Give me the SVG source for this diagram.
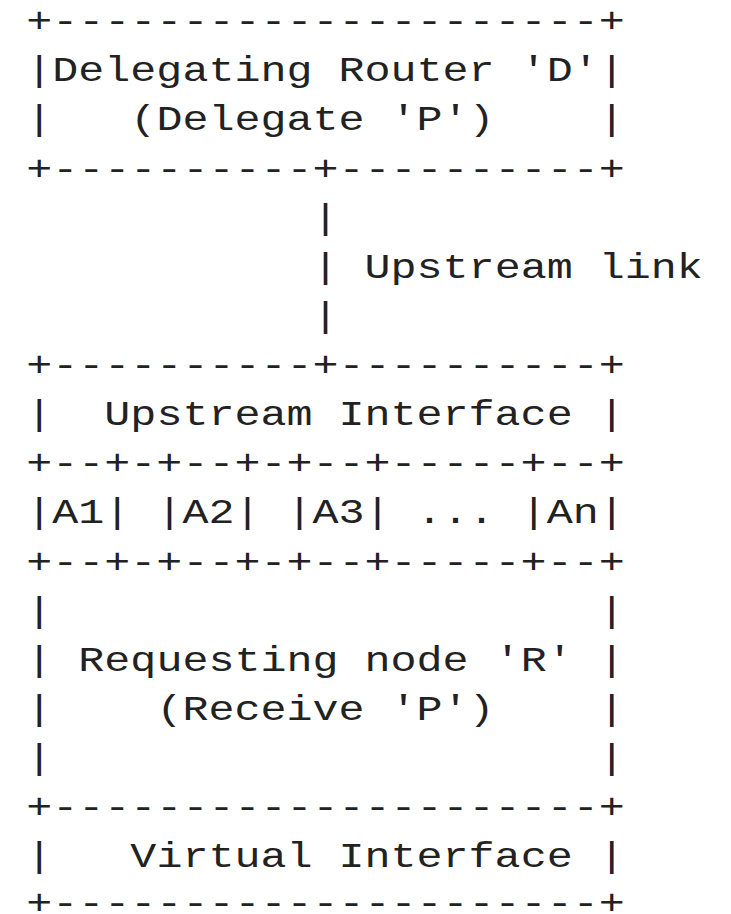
<svg xmlns="http://www.w3.org/2000/svg" width="731" height="914" viewBox="0 0 731 914">
<style>
text { font-family: "Liberation Mono", "DejaVu Sans Mono", monospace; font-size: 36px; fill: #222; }
.sx { transform: scale(1.20463, 1); }
</style>
<rect x="0" y="0" width="731" height="914" fill="#ffffff"/>
<g id="delegating-router-D" class="sx">
  <text x="21.83" y="32.2">+---------------------+</text>
  <text x="21.83" y="81.3">|Delegating Router 'D'|</text>
  <text x="21.83" y="130.5">|</text>
  <text x="108.23" y="130.5">(Delegate 'P')</text>
  <text x="497.03" y="130.5">|</text>
  <text x="21.83" y="179.6">+----------+----------+</text>
</g>
<g id="connectors" class="sx">
  <text x="259.43" y="228.7">|</text>
  <text x="259.43" y="277.9">|</text>
  <text x="302.63" y="277.9">Upstream link</text>
  <text x="259.43" y="327.0">|</text>
</g>
<g id="requesting-node-R">
  <g id="upstream-interface" class="sx">
    <text x="21.83" y="376.1">+----------+----------+</text>
    <text x="21.83" y="425.2">|</text>
    <text x="86.63" y="425.2">Upstream Interface</text>
    <text x="497.03" y="425.2">|</text>
  </g>
  <g id="addresses" class="sx">
    <text x="21.83" y="474.4">+--+-+--+-+--+-----+--+</text>
    <g id="addr-A1"><text x="21.83" y="523.5">|A1|</text></g>
    <g id="addr-A2"><text x="129.83" y="523.5">|A2|</text></g>
    <g id="addr-A3"><text x="237.83" y="523.5">|A3|</text></g>
    <text x="345.83" y="523.5">...</text>
    <g id="addr-An"><text x="432.23" y="523.5">|An|</text></g>
    <text x="21.83" y="572.6">+--+-+--+-+--+-----+--+</text>
  </g>
  <g id="requesting-node" class="sx">
    <text x="21.83" y="621.8">|</text>
    <text x="497.03" y="621.8">|</text>
    <text x="21.83" y="670.9">|</text>
    <text x="65.03" y="670.9">Requesting node 'R'</text>
    <text x="497.03" y="670.9">|</text>
    <text x="21.83" y="720.0">|</text>
    <text x="129.83" y="720.0">(Receive 'P')</text>
    <text x="497.03" y="720.0">|</text>
    <text x="21.83" y="769.2">|</text>
    <text x="497.03" y="769.2">|</text>
  </g>
  <g id="virtual-interface" class="sx">
    <text x="21.83" y="818.3">+---------------------+</text>
    <text x="21.83" y="867.4">|</text>
    <text x="108.23" y="867.4">Virtual Interface</text>
    <text x="497.03" y="867.4">|</text>
    <text x="21.83" y="914">+---------------------+</text>
  </g>
</g>
</svg>
